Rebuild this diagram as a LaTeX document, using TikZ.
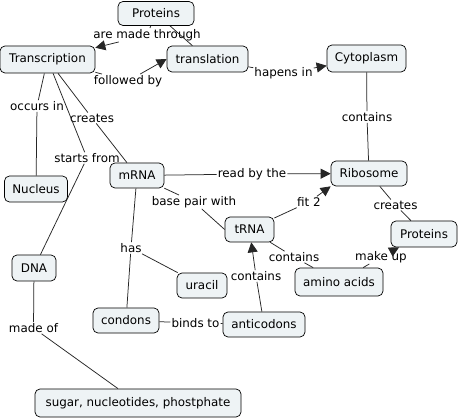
\documentclass[tikz,border=0pt]{standalone}
\usepackage{fontspec}
\setmainfont{DejaVu Sans}
\usetikzlibrary{arrows.meta}
\definecolor{boxfill}{HTML}{EEF3F5}
\begin{document}
\begin{tikzpicture}[x=1pt,y=-1pt,
  every node/.style={font=\fontsize{11.9}{13}\selectfont},
  concept/.style={draw=black, line width=0.7pt, fill=boxfill, rounded corners=5pt, inner sep=0pt},
  linklab/.style={inner sep=1pt},
  conn/.style={draw=black!85, line width=0.75pt},
  arr/.style={conn, -{Triangle[length=10pt,width=10pt]}}]
\useasboundingbox[fill=white] (0,0) rectangle (460,419);
% concepts
\node[concept, minimum width=76, minimum height=24] (protTop) at (156,13.5) {Proteins};
\node[concept, minimum width=95, minimum height=27] (transcription) at (47.5,59.5) {Transcription};
\node[concept, minimum width=81, minimum height=26] (translation) at (207.5,59) {translation};
\node[concept, minimum width=79, minimum height=27] (cytoplasm) at (366.5,58.5) {Cytoplasm};
\node[concept, minimum width=63, minimum height=26] (nucleus) at (36,189) {Nucleus};
\node[concept, minimum width=54, minimum height=25] (mrna) at (137,175.5) {mRNA};
\node[concept, minimum width=76, minimum height=25] (ribosome) at (369,173.5) {Ribosome};
\node[concept, minimum width=44, minimum height=26] (dna) at (34,268) {DNA};
\node[concept, minimum width=49, minimum height=25] (trna) at (249.5,229.5) {tRNA};
\node[concept, minimum width=66, minimum height=26] (protRight) at (424,234) {Proteins};
\node[concept, minimum width=50, minimum height=25] (uracil) at (202,285.5) {uracil};
\node[concept, minimum width=88, minimum height=28] (amino) at (339,282) {amino acids};
\node[concept, minimum width=66, minimum height=25] (condons) at (126,320.5) {condons};
\node[concept, minimum width=82, minimum height=25] (anticodons) at (264,324.5) {anticodons};
\node[concept, minimum width=206, minimum height=28] (sugar) at (138,403) {sugar, nucleotides, phostphate};
% linking phrases
\node[linklab] (lMade) at (147,35) {are made through};
\node[linklab] (lFollowed) at (128,81) {followed by};
\node[linklab] (lHapens) at (283.5,73.5) {hapens in};
\node[linklab] (lContainsTop) at (367,117) {contains};
\node[linklab] (lOccurs) at (37,106) {occurs in};
\node[linklab] (lCreatesL) at (92,118) {creates};
\node[linklab] (lStarts) at (87,158) {starts from};
\node[linklab] (lRead) at (252,174) {read by the};
\node[linklab] (lBase) at (194,202) {base pair with};
\node[linklab] (lFit) at (309,202) {fit 2};
\node[linklab] (lCreatesR) at (395.5,205) {creates};
\node[linklab] (lContainsMid) at (294,257) {contains};
\node[linklab] (lMakeUp) at (381,257) {make up};
\node[linklab] (lHas) at (131,248) {has};
\node[linklab] (lContainsBot) at (256,276) {contains};
\node[linklab] (lBinds) at (195.5,323) {binds to};
\node[linklab] (lMadeOf) at (33.5,328) {made of};
% connectors
\draw[conn] (protTop) -- (lMade);
\draw[arr] (lMade) -- (transcription);
\draw[conn] (protTop) -- (translation);
\draw[conn] (transcription) -- (lFollowed);
\draw[arr] (lFollowed) -- (translation.west);
\draw[conn] (translation) -- (lHapens);
\draw[arr] (lHapens) -- (cytoplasm);
\draw[conn] (cytoplasm) -- (lContainsTop);
\draw[conn] (lContainsTop) -- (ribosome);
\draw[conn] (transcription) -- (lOccurs);
\draw[conn] (lOccurs) -- (nucleus);
\draw[conn] (transcription) -- (lCreatesL);
\draw[conn] (lCreatesL) -- (mrna);
\draw[conn] (transcription) -- (lStarts);
\draw[conn] (lStarts) -- (dna);
\draw[conn] (mrna) -- (lRead);
\draw[arr] (lRead) -- (ribosome);
\draw[conn] (mrna) -- (lBase);
\draw[conn] (lBase) -- (trna.west);
\draw[conn] (trna) -- (lFit);
\draw[arr] (lFit) -- (ribosome.south west);
\draw[conn] (ribosome) -- (lCreatesR);
\draw[conn] (lCreatesR) -- (protRight);
\draw[conn] (trna) -- (lContainsMid);
\draw[conn] (lContainsMid) -- (amino);
\draw[conn] (amino) -- (lMakeUp);
\draw[arr] (lMakeUp) -- (protRight);
\draw[conn] (mrna) -- (lHas);
\draw[conn] (lHas) -- (condons);
\draw[conn] (lHas) -- (uracil);
\draw[conn] (anticodons) -- (lContainsBot);
\draw[arr] (lContainsBot) -- (trna);
\draw[conn] (condons) -- (lBinds);
\draw[conn] (lBinds) -- (anticodons);
\draw[conn] (dna) -- (lMadeOf);
\draw[conn] (lMadeOf) -- (sugar);
\end{tikzpicture}
\end{document}
